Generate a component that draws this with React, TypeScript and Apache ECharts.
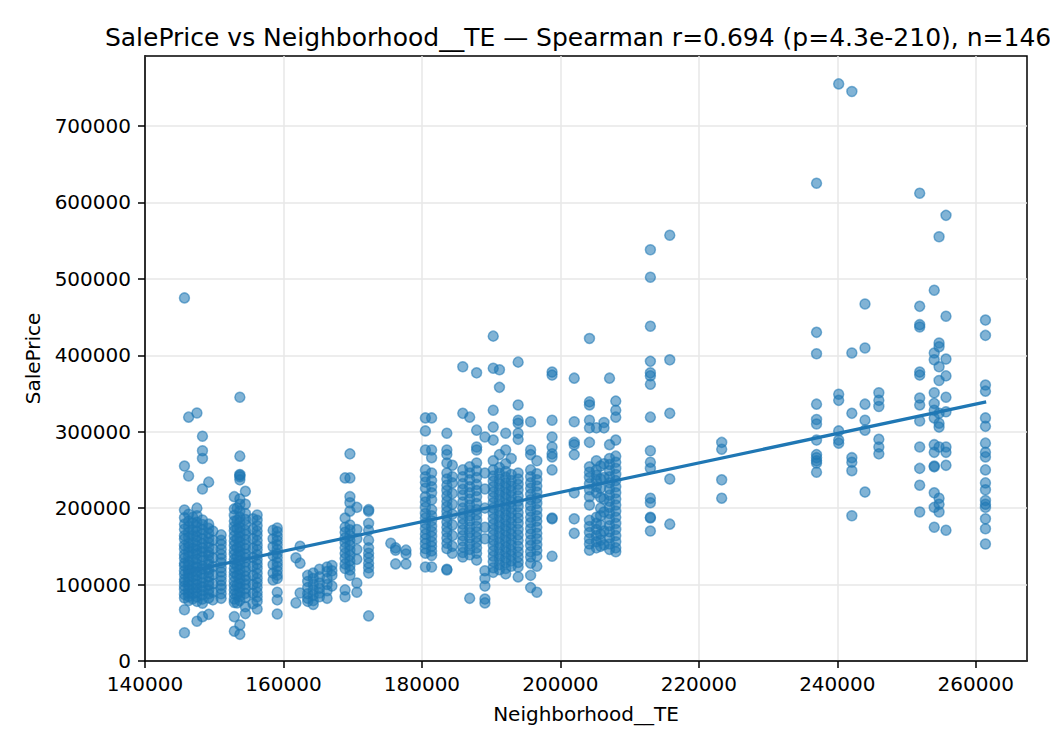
import React, { useEffect, useRef } from 'react'
import * as echarts from 'echarts'

// target-encoded neighborhood value of each column of points
const columnTE = [
  145700, 146300, 146900, 147500, 148300, 149200, 149800, 151000, 152900, 153300,
  153700, 154500, 155600, 156200, 158500, 159100, 161800, 162400, 163500, 164300,
  165200, 166300, 167000, 168900, 169600, 170600, 172300, 175500, 176200, 177700,
  180500, 181400, 183600, 184400, 185900, 186900, 187900, 189100, 190300, 191200,
  192100, 192900, 193900, 195700, 196600, 198800, 202000, 204200, 205200, 205800,
  206300, 207100, 208000, 213000, 215800, 223300, 237000, 240200, 242100, 244000,
  246000, 251900, 254000, 254700, 255700, 261400,
]

// sale prices in each column, same order as columnTE
const columnPrices = [
  [475000, 255000, 197500, 187500, 179000, 172500, 164000, 159500, 151000, 146500, 139000, 134500, 128000, 124500, 118000, 113500, 107000, 103500, 98000, 93500, 87000, 82500, 67000, 37000],
  [319000, 242000, 192000, 183000, 175500, 168000, 161500, 154000, 149000, 142500, 137000, 130000, 125500, 119000, 115000, 109500, 104000, 99500, 94000, 89000, 84500, 79000],
  [188000, 180500, 171000, 163500, 155000, 147500, 140000, 132000, 124000, 117500, 110000, 102000, 95000, 88000, 81500],
  [324500, 200000, 190000, 181500, 176000, 169500, 163000, 157500, 150500, 145000, 140500, 133500, 127000, 122500, 116500, 112000, 105500, 100000, 95500, 89500, 84000, 78000, 52000],
  [294000, 275000, 265000, 225000, 184500, 178500, 172000, 166500, 160000, 153500, 148000, 143000, 136500, 131500, 124000, 120500, 114000, 108500, 102500, 97000, 92000, 86500, 81000, 75500, 58000],
  [234000, 179000, 173500, 167000, 160500, 155000, 148500, 142000, 138000, 132000, 126500, 120000, 115500, 110000, 103500, 99000, 93000, 88000, 82500, 61000],
  [170000, 158000, 146500, 135000, 123500, 113000, 101000, 90000, 80000],
  [165000, 158000, 152500, 146000, 139500, 134000, 128500, 122000, 116500, 110500, 105000, 99000, 94500, 88000, 82000],
  [215000, 199000, 190500, 183000, 176000, 170500, 163500, 157000, 151500, 145000, 139500, 133000, 128000, 121500, 116000, 110500, 104000, 98500, 93000, 87500, 81000, 76500, 58000, 39000],
  [200000, 184000, 173000, 160000, 148000, 137000, 124000, 112000, 99000, 87000, 76000],
  [345000, 268000, 244000, 243000, 241000, 237000, 212000, 205000, 196000, 188000, 181500, 174500, 168000, 162500, 156000, 149500, 143000, 138500, 131500, 126000, 119500, 113000, 107500, 101500, 96000, 90000, 84500, 79000, 47000, 34900],
  [222000, 205000, 193000, 185000, 178500, 171000, 165500, 159000, 152000, 147000, 140000, 135000, 129500, 123000, 117500, 111000, 106000, 100500, 94500, 88500, 83000, 71000, 62000],
  [186000, 172500, 160000, 147500, 135500, 124000, 112000, 100000, 88500, 75000],
  [191000, 184000, 177000, 170000, 164500, 157500, 151000, 145500, 139000, 132500, 127000, 121000, 114500, 108000, 102500, 96500, 90000, 84000, 78000, 68000],
  [171000, 160000, 149500, 138000, 126000, 115000, 106000],
  [174000, 169000, 163000, 157500, 152000, 146000, 140500, 135000, 129000, 123500, 118000, 112500, 108000, 90000, 80000, 61500],
  [135000, 76000],
  [150000, 128000, 89000],
  [112000, 104000, 96000, 88000, 82000, 78000],
  [115000, 108000, 100000, 93000, 86000, 79000, 74000],
  [120000, 110000, 102000, 95000, 89000, 84000],
  [123000, 117000, 108000, 100000, 92000, 82000],
  [125000, 118000, 112000, 98000],
  [239500, 187000, 175000, 168500, 161000, 155000, 148000, 141000, 134500, 127000, 121000, 93000, 84000],
  [271000, 239500, 215000, 207000, 196000, 178000, 171500, 164000, 158000, 151500, 144500, 138000, 131000, 124500, 119000, 112000],
  [201000, 172000, 160000, 146000, 133000, 102000, 90000],
  [198000, 196000, 180000, 171000, 158000, 148000, 141000, 135000, 128000, 122000, 115000, 59000],
  [154000],
  [148000, 145000, 127000],
  [145000, 140000, 127000],
  [318000, 301000, 276000, 250000, 241000, 234000, 226000, 215000, 208000, 201000, 193000, 187000, 180000, 173000, 166000, 160000, 153500, 147000, 141000, 123000],
  [318000, 276000, 266000, 246000, 236000, 228000, 220000, 211000, 198000, 190000, 183500, 176000, 169500, 163000, 156000, 150000, 144000, 138000, 123000],
  [298000, 276000, 270000, 259000, 246000, 238000, 230000, 223000, 216000, 209000, 202000, 195500, 189000, 182000, 175000, 168500, 161000, 154000, 147000, 120000, 119000],
  [256000, 241000, 233000, 219000, 205000, 192000, 178000, 164000, 150000, 141000],
  [385000, 324000, 250000, 241000, 232000, 224500, 217000, 208000, 200000, 193000, 186000, 179000, 171500, 164000, 157000, 149000, 142000, 136000],
  [319000, 254000, 246000, 237000, 228000, 220000, 212000, 204000, 197000, 190000, 183000, 175000, 168000, 161000, 153000, 146000, 139000, 82000],
  [377000, 302000, 280000, 276000, 259000, 249000, 240000, 231000, 223000, 215000, 206000, 198000, 191000, 184000, 176000, 169000, 162000, 155000, 148000, 141000, 132000],
  [293000, 246000, 225000, 200000, 175000, 160000, 118000, 108000, 98000, 81000, 76000],
  [425000, 383000, 328000, 306000, 289000, 262000, 250000, 242000, 235000, 228000, 221000, 214000, 207000, 200000, 193000, 186000, 179000, 172000, 165000, 158000, 151000, 144000, 137000, 130000, 122000, 116000],
  [381000, 358000, 270000, 253000, 245500, 238000, 231500, 224000, 217500, 210000, 203500, 196000, 189500, 182000, 175500, 168000, 161500, 154000, 147500, 140000, 133500, 126000, 119500],
  [298000, 276000, 258000, 248000, 240500, 233000, 226500, 219000, 212500, 205000, 198500, 191000, 184500, 177000, 170500, 163000, 156500, 149000, 142500, 135000, 128500, 121000, 114000],
  [265000, 244000, 236000, 229000, 222000, 215000, 208000, 201000, 194000, 187000, 180000, 173000, 166000, 159000, 152000, 145000, 138000, 131000, 124000],
  [391000, 335000, 315000, 311000, 298000, 290000, 246000, 238000, 231000, 224000, 216000, 209000, 202000, 194000, 187000, 180000, 172000, 165000, 158000, 150000, 143000, 136000, 129000, 123000, 110000],
  [313000, 276000, 270000, 250000, 241000, 233000, 226000, 218000, 211000, 203000, 196000, 188000, 181000, 173000, 166000, 158000, 151000, 143000, 136000, 128000, 112000, 96000],
  [262000, 245000, 237000, 229000, 221000, 213000, 206000, 198000, 190000, 183000, 175000, 167000, 160000, 152000, 145000, 137000, 124000, 90000],
  [378000, 374000, 315000, 293000, 280000, 271000, 267000, 250000, 187000, 186000, 137000],
  [370000, 313000, 286000, 283000, 270000, 220000, 186000, 167000],
  [422000, 339000, 335000, 315000, 305000, 286000, 254000, 247000, 240000, 232000, 224000, 215000, 204000, 184000, 176000, 168000, 160000, 153000, 145000],
  [305000, 262000, 250000, 243000, 236000, 228000, 220000, 188000, 180000, 172000, 164000, 156000, 148000],
  [255000, 238000, 226000, 214000, 200000, 190000, 178000, 166000, 158000, 150000],
  [312000, 305000, 258000, 240000, 212000, 195000, 170000, 152000],
  [370000, 283000, 265000, 257000, 249000, 241000, 233000, 225000, 217000, 209000, 201000, 193000, 185000, 177000, 169000, 161000, 153000, 146000],
  [340000, 328000, 319000, 289000, 268000, 260000, 252000, 244000, 236000, 228000, 220000, 212000, 204000, 196000, 188000, 180000, 172000, 164000, 156000, 148000, 143000],
  [538000, 502000, 438000, 392000, 377000, 373000, 362000, 319000, 275000, 260000, 252000, 213000, 207000, 188000, 187000, 170000],
  [557000, 394000, 324000, 238000, 179000],
  [286000, 277000, 237000, 213000],
  [625000, 430000, 402000, 336000, 316000, 310000, 289000, 270000, 266000, 262000, 259000, 247000],
  [755000, 349000, 341000, 301000, 289000, 285000],
  [745000, 403000, 324000, 266000, 260000, 249000, 190000],
  [467000, 409500, 336000, 315000, 302000, 221000],
  [351000, 341000, 333000, 290000, 280000, 271000],
  [612000, 464000, 440000, 437000, 378000, 374000, 344000, 335000, 314000, 280000, 252000, 230000, 195000],
  [485000, 403000, 394000, 351000, 337000, 328000, 318000, 283000, 273000, 255000, 254000, 220000, 201000, 175000],
  [555000, 416000, 411000, 385000, 367000, 324000, 311000, 306000, 280000, 213000, 205000, 195000],
  [583000, 451000, 395000, 373000, 345000, 326000, 280000, 273000, 256000, 171000],
  [446000, 426000, 361000, 353000, 318000, 307000, 285000, 273000, 267000, 250000, 233000, 224000, 210000, 205000, 201000, 186000, 173000, 153000],
]

// fitted line, two end points
const trendTE = [145600, 261500]
const trendPrice = [116000, 339000]

const xTicks = [140000, 160000, 180000, 200000, 220000, 240000, 260000]
const yTicks = [0, 100000, 200000, 300000, 400000, 500000, 600000, 700000]

const titleText = 'SalePrice vs Neighborhood__TE — Spearman r=0.694 (p=4.3e-210), n=1460'

const BLUE = '#1f77b4'
const FONT = 'DejaVu Sans'

export default function App() {
  const chartRef = useRef<HTMLDivElement>(null)

  useEffect(() => {
    if (!chartRef.current) return
    const chart = echarts.init(chartRef.current, undefined, { renderer: 'svg' })

    const points: number[][] = []
    columnTE.forEach((te, i) => {
      columnPrices[i].forEach(p => points.push([te, p]))
    })
    const trend = trendTE.map((x, i) => [x, trendPrice[i]])

    const textStyle = { fontFamily: FONT, fontSize: 20, color: '#000' }
    const plain = (v: number) => String(v)

    chart.setOption({
      animation: false,
      backgroundColor: '#fff',
      grid: {
        left: 145,
        right: 23,
        top: 56,
        bottom: 89,
        show: true,
        borderColor: '#000',
        borderWidth: 1.5,
      },
      graphic: [
        {
          // centred over the plot like the original; the tail runs past the right edge there too
          type: 'text',
          x: 586,
          y: 37,
          style: {
            text: titleText,
            fontFamily: FONT,
            fontSize: 25,
            fill: '#000',
            align: 'center',
            verticalAlign: 'middle',
          },
        },
      ],
      xAxis: {
        type: 'value',
        min: 140000,
        max: 267400,
        interval: 20000,
        name: 'Neighborhood__TE',
        nameLocation: 'middle',
        nameGap: 43,
        nameTextStyle: textStyle,
        axisLine: { show: true, onZero: false, lineStyle: { color: '#000', width: 1.5 } },
        axisTick: { show: true, length: 7, customValues: xTicks, lineStyle: { color: '#000', width: 1.5 } },
        axisLabel: { ...textStyle, margin: 13, customValues: xTicks, formatter: plain },
        splitLine: { show: true, lineStyle: { color: '#e7e7e7', width: 1.5 } },
      },
      yAxis: {
        type: 'value',
        min: 0,
        max: 791500,
        interval: 100000,
        name: 'SalePrice',
        nameLocation: 'middle',
        nameGap: 102,
        nameTextStyle: textStyle,
        axisLine: { show: true, onZero: false, lineStyle: { color: '#000', width: 1.5 } },
        axisTick: { show: true, length: 7, customValues: yTicks, lineStyle: { color: '#000', width: 1.5 } },
        axisLabel: { ...textStyle, margin: 14, customValues: yTicks, formatter: plain },
        splitLine: { show: true, lineStyle: { color: '#e7e7e7', width: 1.5 } },
      },
      series: [
        {
          type: 'scatter',
          data: points,
          symbolSize: 10,
          silent: true,
          progressive: 0,
          z: 2,
          itemStyle: {
            color: 'rgba(31,119,180,0.7)',
            borderColor: 'rgba(31,119,180,0.7)',
            borderWidth: 1.5,
          },
        },
        {
          type: 'line',
          data: trend,
          symbol: 'none',
          silent: true,
          z: 3,
          lineStyle: { color: BLUE, width: 3.2 },
        },
      ],
    })

    return () => chart.dispose()
  }, [])

  return (
    <div
      ref={chartRef}
      style={{
        position: 'fixed',
        left: 0,
        top: 0,
        width: '1050px',
        height: '750px',
        background: '#fff',
      }}
    />
  )
}
